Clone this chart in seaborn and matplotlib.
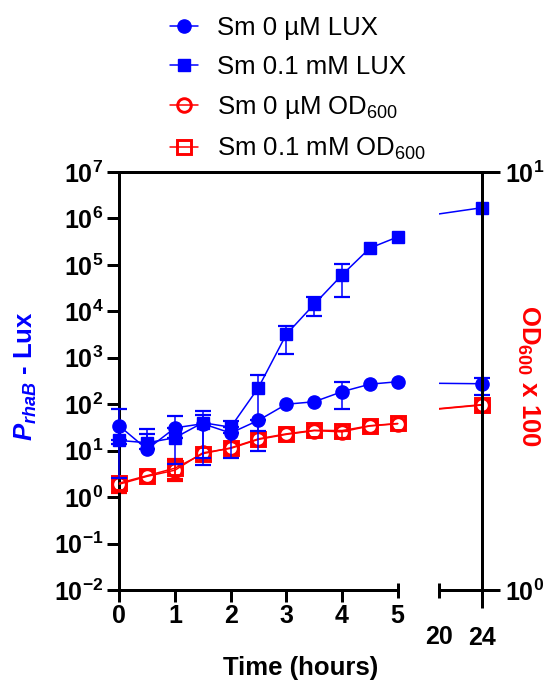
import numpy as np
import pandas as pd
import seaborn as sns
import matplotlib
import matplotlib.pyplot as plt
from matplotlib.lines import Line2D
from matplotlib.ticker import FixedLocator, FixedFormatter, NullLocator

matplotlib.use("Agg")

# time points (hours)
hours = [0, 0.5, 1, 1.5, 2, 2.5, 3, 3.5, 4, 4.5, 5, 24]

# Sm 0 uM LUX
lux_0 = [34, 10.7, 31, 38, 24, 45, 100, 113, 186, 270, 305, 276]
lux_0_lo = [14, 10.7, 31, 7, 7, 10, 100, 113, 78, 270, 305, 155]
lux_0_hi = [80, 29, 56, 60, 24, 45, 100, 113, 300, 270, 305, 370]

# Sm 0.1 mM LUX
lux_01 = [16.6, 14.8, 19, 40, 32, 229, 3200, 14200, 60700, 230000, 400000, 1700000]
lux_01_lo = [2.6, 14.8, 5.2, 4.8, 32, 26, 1200, 7800, 20000, 230000, 400000, 1700000]
lux_01_hi = [16.6, 23, 19, 71, 44, 430, 4900, 20000, 107000, 230000, 400000, 1700000]

# Sm 0 uM OD600 (x100)
od_0 = [1.9, 2.8, 3.8, 9.0, 11.2, 17.5, 22.4, 27, 25.5, 34, 38, 96]
od_0_lo = [1.2, 2.8, 2.2, 9.0, 11.2, 17.5, 22.4, 27, 25.5, 34, 38, 96]
od_0_hi = [2.7, 2.8, 6.6, 9.0, 11.2, 17.5, 22.4, 27, 25.5, 34, 38, 96]

# Sm 0.1 mM OD600 (x100)
od_01 = [2.0, 2.9, 4.2, 8.6, 11.5, 18, 23, 27.5, 27, 34.5, 38.5, 98]
od_01_lo = [1.3, 2.9, 2.4, 8.6, 11.5, 18, 23, 27.5, 19, 34.5, 38.5, 98]
od_01_hi = [2.6, 2.9, 6.2, 8.6, 11.5, 18, 23, 27.5, 27, 34.5, 38.5, 98]

labels = ["Sm 0 µM LUX", "Sm 0.1 mM LUX",
          r"Sm 0 µM OD$_{\mathrm{600}}$", r"Sm 0.1 mM OD$_{\mathrm{600}}$"]

left_xticks = [0, 1, 2, 3, 4]
right_xticks = [20, 24]
ytick_exp = [-2, -1, 0, 1, 2, 3, 4, 5, 6, 7]

sns.set_style("ticks")
plt.rcParams["font.family"] = ["Liberation Sans", "DejaVu Sans"]
plt.rcParams["mathtext.fontset"] = "custom"
plt.rcParams["mathtext.rm"] = "Liberation Sans"
plt.rcParams["mathtext.bf"] = "Liberation Sans:bold"
plt.rcParams["mathtext.it"] = "Liberation Sans:italic"
plt.rcParams["mathtext.bfit"] = "Liberation Sans:italic:bold"
for key in ["axes.edgecolor", "xtick.color", "ytick.color", "text.color",
            "axes.labelcolor"]:
    plt.rcParams[key] = "black"

BLUE = "#0000ff"
RED = "#ff0000"
W, H = 547, 684
LW = 2.16

series = [
    dict(v=lux_0, lo=lux_0_lo, hi=lux_0_hi, c=BLUE, m="o", mfc=BLUE, z=5),
    dict(v=lux_01, lo=lux_01_lo, hi=lux_01_hi, c=BLUE, m="s", mfc=BLUE, z=5),
    dict(v=od_0, lo=od_0_lo, hi=od_0_hi, c=RED, m="o", mfc="none", z=3),
    dict(v=od_01, lo=od_01_lo, hi=od_01_hi, c=RED, m="s", mfc="none", z=3),
]


def marker_style(s):
    if s["mfc"] == "none":
        return dict(ms=9.8 if s["m"] == "o" else 9.6, mew=2.1)
    return dict(ms=9.5 if s["m"] == "o" else 9.0, mew=1.0)


fig = plt.figure(figsize=(W / 100, H / 100), dpi=100)
ax = fig.add_axes([119.3 / W, 94 / H, 278.4 / W, 418 / H])
axr = fig.add_axes([439.3 / W, 94 / H, 42.4 / W, 418 / H], sharey=ax)
ax2 = axr.twinx()

t = np.array(hours)
early = t <= 5
for s in series:
    v = np.array(s["v"], float)
    lo = np.array(s["lo"], float)
    hi = np.array(s["hi"], float)
    mk = marker_style(s)
    # left panel
    sns.lineplot(x=t[early], y=v[early], ax=ax, color=s["c"], lw=1.1,
                 marker=s["m"], mfc=s["mfc"], mec=s["c"], clip_on=False,
                 zorder=s["z"], **mk)
    # right panel: connecting line 5 -> 24, clipped to the panel
    sns.lineplot(x=t[-2:], y=v[-2:], ax=axr, color=s["c"], lw=1.1, zorder=s["z"])
    axr.plot(t[-1:], v[-1:], ls="none", marker=s["m"], mfc=s["mfc"], mec=s["c"],
             clip_on=False, zorder=s["z"] + 2, **mk)
    # error bars
    has_err = (lo < v) | (hi > v)
    for a, sel in ((ax, has_err & early), (axr, has_err & ~early)):
        if sel.any():
            eb = a.errorbar(t[sel], v[sel], yerr=[v[sel] - lo[sel], hi[sel] - v[sel]],
                            fmt="none", ecolor=s["c"], elinewidth=1.1, capsize=5.8,
                            capthick=1.6, zorder=s["z"] - 1)
            for art in eb.lines[1] + eb.lines[2]:
                art.set_clip_on(False)

# axes styling
ax.set_yscale("log")
ax.set_ylim(1e-2, 1e7)
ax.set_xlim(0, 5)
axr.set_xlim(20, 24)
ax.yaxis.set_major_locator(FixedLocator([10.0 ** e for e in ytick_exp]))
ax.yaxis.set_major_formatter(FixedFormatter([r"$\mathbf{10^{%d}}$" % e for e in ytick_exp]))
ax.yaxis.set_minor_locator(NullLocator())
ax.tick_params(axis="y", labelsize=18, length=8.6, width=LW, pad=3)

ax.xaxis.set_major_locator(FixedLocator(left_xticks))
ax.xaxis.set_minor_locator(FixedLocator([5]))
ax.xaxis.set_major_formatter(FixedFormatter([str(x) for x in left_xticks]))
ax.xaxis.set_minor_formatter(FixedFormatter(["5"]))
ax.tick_params(axis="x", which="major", direction="out", length=8.6, width=LW, pad=1.6)
ax.tick_params(axis="x", which="minor", direction="inout", length=10.8, width=LW, pad=4.9)
for lab in ax.get_xticklabels(which="both"):
    lab.set_fontsize(18)
    lab.set_fontweight("bold")

axr.xaxis.set_major_locator(FixedLocator([24]))
axr.xaxis.set_minor_locator(FixedLocator([20]))
axr.xaxis.set_major_formatter(FixedFormatter(["24"]))
axr.xaxis.set_minor_formatter(FixedFormatter(["20"]))
axr.tick_params(axis="x", which="major", direction="out", length=13, width=LW, pad=13)
axr.tick_params(axis="x", which="minor", direction="inout", length=10.8, width=LW, pad=20)
axr.tick_params(axis="y", which="both", left=False, right=False,
                labelleft=False, labelright=False)
for lab in axr.get_xticklabels(which="both"):
    lab.set_fontsize(18)
    lab.set_fontweight("bold")

for sp in ["top", "right"]:
    ax.spines[sp].set_visible(False)
for sp in ["top", "right", "left"]:
    axr.spines[sp].set_visible(False)
for sp in ["left", "bottom"]:
    ax.spines[sp].set_linewidth(LW)
axr.spines["bottom"].set_linewidth(LW)

# right-hand axis: OD600 x 100
ax2.set_yscale("log")
ax2.set_ylim(1, 10)
ax2.yaxis.set_major_locator(FixedLocator([1, 10]))
ax2.yaxis.set_major_formatter(FixedFormatter([r"$\mathbf{10^{0}}$", r"$\mathbf{10^{1}}$"]))
ax2.yaxis.set_minor_locator(NullLocator())
ax2.tick_params(axis="y", labelsize=18, length=13, width=LW, pad=4)
for sp in ["top", "left", "bottom"]:
    ax2.spines[sp].set_visible(False)
ax2.spines["right"].set_linewidth(LW)

# top border across the break
fig.add_artist(Line2D([119.3 / W, 482 / W], [1 - 172 / H] * 2, lw=LW, color="black",
                      solid_capstyle="projecting"))

# axis titles
fig.text(300.5 / W, 1 - 668 / H, "Time (hours)", ha="center", va="center",
         fontsize=18.5, fontweight="bold")
fig.text(26 / W, 1 - 376 / H, r"$\mathbfit{P}_{\mathbfit{rhaB}}$ - Lux", rotation=90,
         ha="center", va="center", fontsize=18.5, fontweight="bold", color=BLUE)
fig.text(528 / W, 1 - 376 / H, r"OD$_{\mathbf{600}}$ x 100", rotation=270,
         ha="center", va="center", fontsize=18.5, fontweight="bold", color=RED)

# legend
handles = []
for s in series:
    handles.append(Line2D([], [], color=s["c"], lw=1.1, marker=s["m"], mfc=s["mfc"],
                          mec=s["c"], **marker_style(s)))
fig.legend(handles, labels, loc="upper left", bbox_to_anchor=(170 / W, 1 - 16 / H),
           frameon=False, fontsize=18.5, handlelength=1.1, handletextpad=0.72,
           labelspacing=0.58, borderpad=0, borderaxespad=0)

fig.savefig("out.png", dpi=100)
